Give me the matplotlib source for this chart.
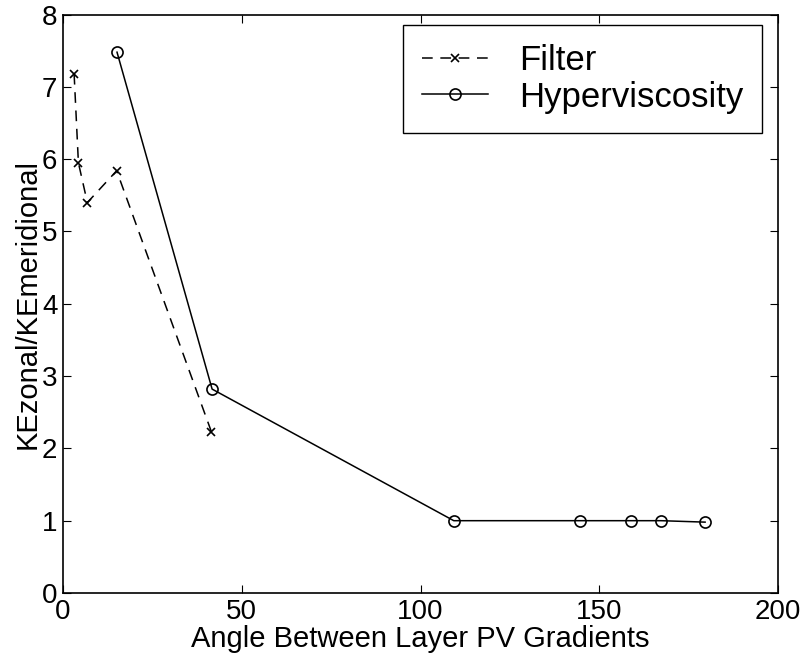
import matplotlib.pyplot as plt

# values
filter_angle = [3.1, 4.3, 6.8, 15.0, 41.5]
filter_ratio = [7.18, 5.95, 5.40, 5.84, 2.23]

hyper_angle = [15.1, 41.7, 109.3, 144.6, 158.9, 167.3, 179.6]
hyper_ratio = [7.48, 2.82, 1.00, 1.00, 1.00, 1.00, 0.98]

xticks = [0, 50, 100, 150, 200]
yticks = [0, 1, 2, 3, 4, 5, 6, 7, 8]

plt.rcParams['font.family'] = ['Liberation Sans', 'DejaVu Sans']

fig = plt.figure(figsize=(8.04, 6.63), dpi=100)
ax = fig.add_axes([0.0784, 0.1056, 0.8893, 0.8724])

ax.plot(filter_angle, filter_ratio, color='black', linestyle=(0, (7, 5)), linewidth=1.1,
        marker='x', markersize=6, markeredgewidth=1.2, label='Filter')
ax.plot(hyper_angle, hyper_ratio, color='black', linestyle='-', linewidth=1.1,
        marker='o', markersize=8, markerfacecolor='none', markeredgewidth=1.2,
        label='Hyperviscosity')

ax.set_xlim(0, 200)
ax.set_ylim(0, 8)
ax.set_xticks(xticks)
ax.set_yticks(yticks)
ax.tick_params(direction='in', top=True, right=True, labelsize=20, length=6, pad=4)
for s in ax.spines.values():
    s.set_linewidth(1.2)

ax.set_xlabel('Angle Between Layer PV Gradients', fontsize=21, labelpad=0)
ax.set_ylabel('KEzonal/KEmeridional', fontsize=21, labelpad=0)

leg = ax.legend(loc='upper right', bbox_to_anchor=(0.978, 0.982), borderaxespad=0,
                fontsize=25, fancybox=False, framealpha=1, edgecolor='black',
                handlelength=1.9, handletextpad=0.9, borderpad=0.55, labelspacing=0.1)
leg.get_frame().set_linewidth(1.0)

fig.savefig('out.png', dpi=100)
